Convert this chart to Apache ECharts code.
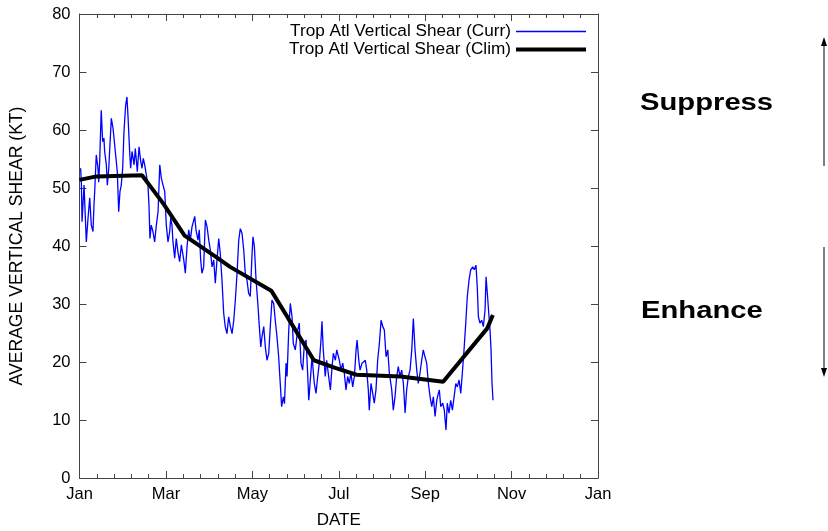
<!DOCTYPE html>
<html><head><meta charset="utf-8">
<script src="https://cdn.jsdelivr.net/npm/echarts@6/dist/echarts.min.js"></script>
<style>html,body{margin:0;padding:0;background:#fff}#c{width:828px;height:531px}</style>
</head><body><div id="c"></div>
<script>
var monthLabels = ['Jan','Mar','May','Jul','Sep','Nov','Jan'];
var yTicks = [0,10,20,30,40,50,60,70,80];
var currDays = [0.8,1.3,1.8,3.2,4.8,6,7.2,8.3,9.5,10.2,10.7,11.8,13,13.5,14.2,15.3,16.3,17.2,17.7,18.9,19.6,20.6,21.3,22.4,23.6,24.3,25.2,26.6,27.6,28.5,29.4,30.4,31.3,32.5,33.4,34.1,35.3,36,37,38.4,39.3,40.7,41.9,43.1,44,44.9,45.9,47,48.2,48.9,49.6,50.5,51.7,52.9,54.1,55.3,56.5,57.6,58.8,60,61.1,62.3,63.5,64.2,65.1,65.8,67,68.1,69.3,70.5,71.7,73.4,74.5,75.7,76.9,78,79.2,81.1,82,83.4,84.3,85.3,86.2,87.4,88.6,89.8,91,92.1,93.3,94.5,95.6,96.8,98,99.1,100.3,101.5,102.6,103.8,105,106.2,107.4,108.6,109.7,110.9,112.1,113.2,114.4,115.6,116.7,117.9,119.1,120.2,121.4,122.1,123.1,124.3,125.7,126.6,127.6,128.5,129.7,130.8,132,133.2,134.3,135.5,136.7,137.8,139,140.2,142.3,143.5,144.3,145.4,146.1,147.3,148.4,149.6,150.5,151.9,153.6,154.7,155.9,157.1,158.3,159.5,160.7,161.4,162.3,163.7,165.3,166.5,167.7,168.8,170,170.7,171.6,173,174,175.4,176.6,177.8,178.7,180.1,181.1,182.2,182.9,184.1,185.3,186.4,187.6,188.8,189.9,191.1,192.3,193.5,194.7,195.4,196.6,197.5,198.9,200.1,201.2,202.2,203.3,204,205.2,206.4,207.5,208.7,209.9,211.1,212.3,213.5,214.6,215.8,217,218.1,219.8,220.9,222.1,223.3,224.4,225.6,226.8,228,229.2,230.3,231.5,232.7,233.9,235,236.2,237.4,238.5,239.7,240.9,242,243.2,244.4,245.6,246.8,248,249.1,250.3,251.5,252.6,253.3,254.3,255.7,256.8,258,258.9,260.1,261.3,262.5,263.7,264.9,266,267.2,268.4,269.5,270.7,271.9,273,274.2,275.4,276.8,277.9,279.1,280,280.8,281.9,283.1,284.3,285.5,286.2,287.1,288.1,289,289.7,290.4,291.1];
var currValues = [53.4,51,44.2,50.5,40.7,44.8,48.3,43.6,42.5,47.1,49.4,55.7,53.4,51,54.6,63.4,58,58.6,56.3,54,50.5,53.4,56.8,62,60.3,58.6,56.3,52.8,45.9,49.4,50.5,53.4,59.7,64.3,65.7,62.6,56.3,53.4,56.3,54,56.8,52.8,57.1,54.6,53.4,55.1,54,54,50.5,47.1,41.3,43.6,42.5,40.7,43.6,45.9,54,51.7,50.5,49.4,43.6,40.7,42.5,44.8,43.6,40.7,37.9,41.3,39,37.3,40.2,37.6,35.3,39.9,42.8,41,43.3,45.1,42.8,41,42.8,37.6,35.3,36.4,44.5,43.3,41,39.3,36.4,37.6,33.6,37.6,41.3,38.7,34.1,28.4,26.1,24.9,27.8,26.1,24.9,27.2,30.7,35.3,41,43,42.2,39.3,35.3,34.1,31.8,31.3,38.2,41.6,39.9,34.1,29.5,26.1,22.6,24.4,26.1,22.6,20.3,21.5,26.1,30.7,30.1,27.2,24.4,20.9,12.3,14,12.8,19.8,17.5,25.5,30.1,27.8,23.2,22.1,25.5,26.7,19.8,18.6,23.2,23.8,17.5,13.4,16.3,20.9,16.3,14.6,17.5,19.8,23.8,27,22.1,17.5,20.3,17.5,15.2,19.2,21.5,20.3,22.1,22.4,20.3,18.6,19.8,18.1,15.2,17.5,16.3,18.1,15.7,17.5,22.1,23.8,20.3,18.6,19.8,19.5,20.3,18.6,15.2,11.7,16.3,14.6,12.9,15.2,20.3,23.2,27.2,26.1,25.5,20.9,22.1,18.1,15.2,11.7,14,17.5,19.2,17.5,18.6,16.3,11.2,15.2,17.5,18.6,22.1,27.5,22.1,18.6,16.3,18.1,20.3,22.1,20.9,19.8,16.3,14,12.3,14,10.6,13.4,14.6,15.2,12.3,12.9,11.7,8.3,12.9,11.2,13.4,11.7,14,16.3,15.7,16.9,14.6,18.1,22.1,26.7,31.3,34.1,35.9,36.4,35.9,36.7,33,27.8,26.7,27.2,26.1,29,34.7,31.8,28.4,25.5,22.1,16.3,13.4];
var climDays = [0,12,44,59,74,95,106,135,165,180,195,226,256,287,291];
var climValues = [51.4,52,52.2,47.3,41.8,38.3,36.4,32.3,20.3,19,17.8,17.5,16.6,25.8,28.1];
var currName = 'Trop Atl Vertical Shear (Curr)';
var climName = 'Trop Atl Vertical Shear (Clim)';

function pairs(xs, ys){ var o=[]; for(var i=0;i<xs.length;i++) o.push([xs[i], ys[i]]); return o; }
var DAYS = 365, STEP = DAYS/6;
var font = 'Liberation Sans, Arial, Helvetica, sans-serif';
var axisCol = '#444';
var FS = 16.5;

var chart = echarts.init(document.getElementById('c'), null, {renderer:'canvas'});
var legendText = {fontFamily:font, fontSize:17.2, color:'#000'};
chart.setOption({
  animation:false,
  backgroundColor:'#fff',
  grid:{left:79.5, right:230, top:14, bottom:53, outerBoundsMode:'none', containLabel:false},
  legend:[{
    right:237, top:18, orient:'vertical', align:'right', icon:'rect',
    itemWidth:70, itemHeight:1.3, textStyle:legendText, data:[currName]
  },{
    right:237, top:36, orient:'vertical', align:'right', icon:'rect',
    itemWidth:70, itemHeight:4, textStyle:legendText, data:[climName]
  }],
  xAxis:[{
    type:'value', min:0, max:DAYS, interval:STEP,
    name:'DATE', nameLocation:'middle', nameGap:34,
    nameTextStyle:{fontFamily:font, fontSize:17, color:'#000'},
    axisLine:{onZero:false, lineStyle:{color:axisCol, width:1}},
    axisTick:{inside:true, length:7, lineStyle:{color:axisCol}},
    minorTick:{show:true, splitNumber:5, length:4, lineStyle:{color:axisCol}},
    axisLabel:{fontFamily:font, fontSize:FS, color:'#000', margin:8,
      formatter:function(v){ return monthLabels[Math.round(v/STEP)]; }},
    splitLine:{show:false}
  },{
    type:'value', min:0, max:DAYS, interval:STEP, position:'top',
    axisLine:{show:true, onZero:false, lineStyle:{color:axisCol, width:1}},
    axisTick:{show:true, inside:true, length:7, lineStyle:{color:axisCol}},
    minorTick:{show:true, splitNumber:5, length:4, lineStyle:{color:axisCol}},
    axisLabel:{show:false}, splitLine:{show:false}
  }],
  yAxis:[{
    type:'value', min:yTicks[0], max:yTicks[yTicks.length-1], interval:10,
    name:'AVERAGE VERTICAL SHEAR (KT)', nameLocation:'middle', nameGap:53,
    nameTextStyle:{fontFamily:font, fontSize:17.6, color:'#000'},
    axisLine:{show:true, onZero:false, lineStyle:{color:axisCol, width:1}},
    axisTick:{show:true, inside:true, length:7, lineStyle:{color:axisCol}},
    axisLabel:{fontFamily:font, fontSize:FS, color:'#000', margin:9},
    splitLine:{show:false}
  },{
    type:'value', min:0, max:80, interval:10, position:'right',
    axisLine:{show:true, onZero:false, lineStyle:{color:axisCol, width:1}},
    axisTick:{show:true, inside:true, length:7, lineStyle:{color:axisCol}},
    axisLabel:{show:false}, splitLine:{show:false}
  }],
  series:[{
    name:currName, type:'line', symbol:'none',
    data:pairs(currDays, currValues),
    itemStyle:{color:'#0000ff'},
    lineStyle:{color:'#0000ff', width:1.3}, z:2
  },{
    name:climName, type:'line', symbol:'none',
    data:pairs(climDays, climValues),
    itemStyle:{color:'#000'},
    lineStyle:{color:'#000', width:4}, z:3
  },{
    type:'line', xAxisIndex:1, yAxisIndex:1, data:[], symbol:'none', silent:true
  }],
  graphic:[
    {type:'text', left:640, top:92, scaleX:1.27, style:{text:'Suppress', font:'bold 23px Liberation Sans, Arial, sans-serif', fill:'#000'}},
    {type:'text', left:641, top:300, scaleX:1.27, style:{text:'Enhance', font:'bold 23px Liberation Sans, Arial, sans-serif', fill:'#000'}},
    {type:'line', shape:{x1:824, y1:44, x2:824, y2:166}, style:{stroke:'#000', lineWidth:1}},
    {type:'polygon', shape:{points:[[824,37],[821,46],[827,46]]}, style:{fill:'#000'}},
    {type:'line', shape:{x1:824, y1:247, x2:824, y2:370}, style:{stroke:'#000', lineWidth:1}},
    {type:'polygon', shape:{points:[[824,377],[821,368],[827,368]]}, style:{fill:'#000'}}
  ]
});
</script></body></html>
